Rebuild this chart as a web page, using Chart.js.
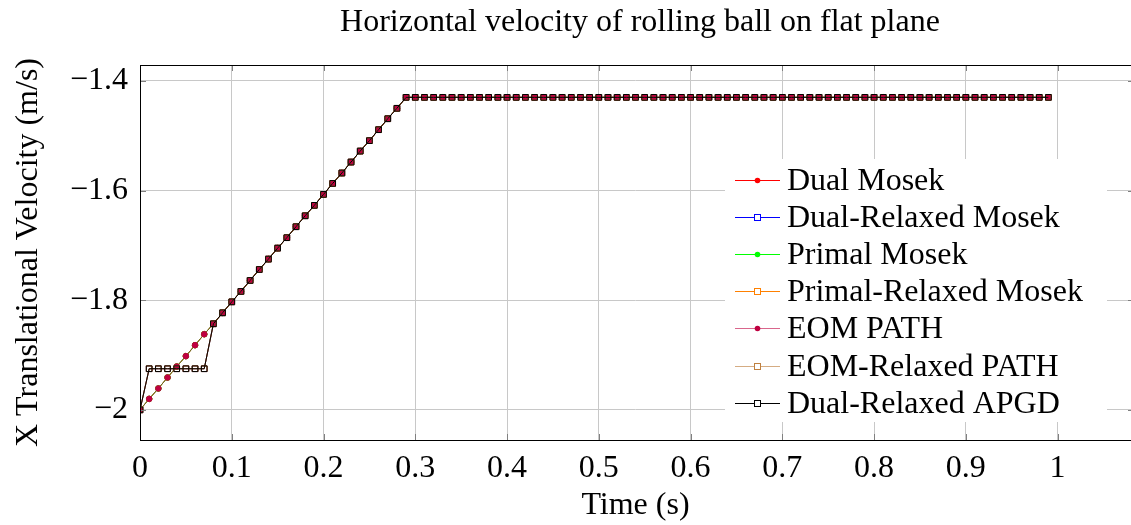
<!DOCTYPE html>
<html>
<head>
<meta charset="utf-8">
<script src="https://cdn.jsdelivr.net/npm/chart.js@4/dist/chart.umd.min.js"></script>
<style>
  html, body { margin: 0; padding: 0; background: #fff; }
  #c { display: block; }
</style>
</head>
<body>
<canvas id="c" width="1131" height="525"></canvas>
<script>
// time samples (s)
const times = [
  0.00, 0.01, 0.02, 0.03, 0.04, 0.05, 0.06, 0.07, 0.08, 0.09,
  0.10, 0.11, 0.12, 0.13, 0.14, 0.15, 0.16, 0.17, 0.18, 0.19,
  0.20, 0.21, 0.22, 0.23, 0.24, 0.25, 0.26, 0.27, 0.28, 0.29,
  0.30, 0.31, 0.32, 0.33, 0.34, 0.35, 0.36, 0.37, 0.38, 0.39,
  0.40, 0.41, 0.42, 0.43, 0.44, 0.45, 0.46, 0.47, 0.48, 0.49,
  0.50, 0.51, 0.52, 0.53, 0.54, 0.55, 0.56, 0.57, 0.58, 0.59,
  0.60, 0.61, 0.62, 0.63, 0.64, 0.65, 0.66, 0.67, 0.68, 0.69,
  0.70, 0.71, 0.72, 0.73, 0.74, 0.75, 0.76, 0.77, 0.78, 0.79,
  0.80, 0.81, 0.82, 0.83, 0.84, 0.85, 0.86, 0.87, 0.88, 0.89,
  0.90, 0.91, 0.92, 0.93, 0.94, 0.95, 0.96, 0.97, 0.98, 0.99
];

// velocity of the exact (non relaxed) solvers: Dual Mosek, Primal Mosek, EOM PATH
const exactVel = [
  -2.000, -1.980, -1.961, -1.941, -1.921, -1.902, -1.882, -1.862, -1.843, -1.823,
  -1.803, -1.784, -1.764, -1.744, -1.725, -1.705, -1.686, -1.666, -1.646, -1.627,
  -1.607, -1.587, -1.568, -1.548, -1.528, -1.509, -1.489, -1.469, -1.450, -1.430,
  -1.430, -1.430, -1.430, -1.430, -1.430, -1.430, -1.430, -1.430, -1.430, -1.430,
  -1.430, -1.430, -1.430, -1.430, -1.430, -1.430, -1.430, -1.430, -1.430, -1.430,
  -1.430, -1.430, -1.430, -1.430, -1.430, -1.430, -1.430, -1.430, -1.430, -1.430,
  -1.430, -1.430, -1.430, -1.430, -1.430, -1.430, -1.430, -1.430, -1.430, -1.430,
  -1.430, -1.430, -1.430, -1.430, -1.430, -1.430, -1.430, -1.430, -1.430, -1.430,
  -1.430, -1.430, -1.430, -1.430, -1.430, -1.430, -1.430, -1.430, -1.430, -1.430,
  -1.430, -1.430, -1.430, -1.430, -1.430, -1.430, -1.430, -1.430, -1.430, -1.430
];

// velocity of the relaxed solvers: Dual-Relaxed Mosek, Primal-Relaxed Mosek, EOM-Relaxed PATH, APGD
const relaxedVel = [
  -2.000, -1.925, -1.925, -1.925, -1.925, -1.925, -1.925, -1.925, -1.843, -1.823,
  -1.803, -1.784, -1.764, -1.744, -1.725, -1.705, -1.686, -1.666, -1.646, -1.627,
  -1.607, -1.587, -1.568, -1.548, -1.528, -1.509, -1.489, -1.469, -1.450, -1.430,
  -1.430, -1.430, -1.430, -1.430, -1.430, -1.430, -1.430, -1.430, -1.430, -1.430,
  -1.430, -1.430, -1.430, -1.430, -1.430, -1.430, -1.430, -1.430, -1.430, -1.430,
  -1.430, -1.430, -1.430, -1.430, -1.430, -1.430, -1.430, -1.430, -1.430, -1.430,
  -1.430, -1.430, -1.430, -1.430, -1.430, -1.430, -1.430, -1.430, -1.430, -1.430,
  -1.430, -1.430, -1.430, -1.430, -1.430, -1.430, -1.430, -1.430, -1.430, -1.430,
  -1.430, -1.430, -1.430, -1.430, -1.430, -1.430, -1.430, -1.430, -1.430, -1.430,
  -1.430, -1.430, -1.430, -1.430, -1.430, -1.430, -1.430, -1.430, -1.430, -1.430
];

const seriesNames = ['Dual Mosek', 'Dual-Relaxed Mosek', 'Primal Mosek', 'Primal-Relaxed Mosek',
                     'EOM PATH', 'EOM-Relaxed PATH', 'Dual-Relaxed APGD'];
const seriesValues = [exactVel, relaxedVel, exactVel, relaxedVel, exactVel, relaxedVel, relaxedVel];

const xTicks = [0, 0.1, 0.2, 0.3, 0.4, 0.5, 0.6, 0.7, 0.8, 0.9, 1];
const yTicks = [-2, -1.8, -1.6, -1.4];

const lineColors = ['#ff0000', '#0000ff', '#00ff00', '#ff8000', 'rgba(191,0,64,0.6)', 'rgba(191,128,64,0.65)', '#000000'];
const markColors = ['#ff0000', '#0000ff', '#00ff00', '#ff8000', '#bf0040', '#bf8040', '#000000'];
const markShapes = ['circle', 'rect', 'circle', 'rect', 'circle', 'rect', 'rect'];

const FONT = '"Liberation Serif", "DejaVu Serif", serif';
const FS = 32;

function fmt(v) {
  const s = String(Math.round(v * 10) / 10);
  return s.replace('-', '\u2212');
}

const datasets = seriesNames.map((name, i) => {
  const open = markShapes[i] === 'rect';
  return {
    label: name,
    data: times.map((t, k) => ({ x: t, y: seriesValues[i][k] })),
    borderColor: lineColors[i],
    borderWidth: 1,
    pointStyle: markShapes[i],
    pointRadius: open ? 4 : 2.8,
    pointBorderWidth: 1,
    pointBorderColor: markColors[i],
    pointBackgroundColor: open ? 'rgba(0,0,0,0)' : markColors[i],
    tension: 0,
    order: seriesNames.length - i
  };
});

const decor = {
  id: 'decor',
  beforeDraw(chart) {
    const ctx = chart.ctx;
    ctx.save();
    ctx.fillStyle = '#fff';
    ctx.fillRect(0, 0, chart.width, chart.height);
    ctx.restore();
  },
  afterDatasetsDraw(chart) {
    // legend box inside plot
    const ctx = chart.ctx;
    const lx = 725, ly = 159, lw = 382, lh = 263;
    ctx.save();
    ctx.fillStyle = '#fff';
    ctx.fillRect(lx, ly, lw, lh);
    const rowY = 180, rowStep = 37.1;
    seriesNames.forEach((name, i) => {
      const y = Math.round(rowY + i * rowStep) + 0.5;
      ctx.strokeStyle = lineColors[i];
      ctx.lineWidth = 1;
      ctx.beginPath();
      ctx.moveTo(735, y);
      ctx.lineTo(780, y);
      ctx.stroke();
      const mx = 757.5;
      ctx.strokeStyle = markColors[i];
      ctx.fillStyle = markColors[i];
      if (markShapes[i] === 'circle') {
        ctx.beginPath();
        ctx.arc(mx, y, 2.8, 0, Math.PI * 2);
        ctx.fill();
      } else {
        ctx.fillStyle = '#fff';
        ctx.fillRect(mx - 3, y - 3, 6, 6);
        ctx.strokeRect(mx - 3, y - 3, 6, 6);
      }
      ctx.fillStyle = '#000';
      ctx.font = FS + 'px ' + FONT;
      ctx.textBaseline = 'middle';
      ctx.textAlign = 'left';
      ctx.fillText(name, 787, y + 1);
    });
    ctx.restore();
  },
  afterDraw(chart) {
    const ctx = chart.ctx;
    const a = chart.chartArea;
    const xs = chart.scales.x, ys = chart.scales.y;
    // the axis box runs a few px past the right edge of the picture
    const right = a.right + 3;
    ctx.save();
    // inner tick marks on all four sides
    ctx.strokeStyle = '#808080';
    ctx.lineWidth = 1;
    ctx.beginPath();
    xTicks.forEach(v => {
      const px = Math.round(xs.getPixelForValue(v)) + 0.5;
      ctx.moveTo(px, a.bottom); ctx.lineTo(px, a.bottom - 6);
      ctx.moveTo(px, a.top); ctx.lineTo(px, a.top + 6);
    });
    yTicks.forEach(v => {
      const py = Math.round(ys.getPixelForValue(v)) + 0.5;
      ctx.moveTo(a.left, py); ctx.lineTo(a.left + 6, py);
      ctx.moveTo(right, py); ctx.lineTo(right - 6, py);
    });
    ctx.stroke();
    // frame
    ctx.strokeStyle = '#000';
    ctx.strokeRect(Math.round(a.left) + 0.5, Math.round(a.top) + 0.5,
                   Math.round(right - a.left), Math.round(a.bottom - a.top));
    // title
    ctx.fillStyle = '#000';
    ctx.font = FS + 'px ' + FONT;
    ctx.textAlign = 'center';
    ctx.textBaseline = 'middle';
    ctx.fillText('Horizontal velocity of rolling ball on flat plane', 640, 23);
    ctx.restore();
  }
};

new Chart(document.getElementById('c'), {
  type: 'line',
  data: { datasets },
  options: {
    responsive: false,
    animation: false,
    devicePixelRatio: 1,
    layout: { autoPadding: false, padding: { top: 65, right: 0, left: 0, bottom: 0 } },
    plugins: { legend: { display: false }, tooltip: { enabled: false } },
    scales: {
      x: {
        type: 'linear',
        min: 0,
        max: 1.08,
        afterBuildTicks: s => { s.ticks = xTicks.map(v => ({ value: v })); },
        afterFit: s => { s.height = 85; s.paddingLeft = 0; s.paddingRight = 0; },
        grid: { color: '#c8c8c8', drawTicks: false },
        border: { display: false },
        ticks: {
          padding: 9,
          color: '#000',
          font: { family: FONT, size: FS },
          maxRotation: 0,
          callback: v => fmt(v)
        },
        title: {
          display: true,
          text: 'Time (s)',
          color: '#000',
          font: { family: FONT, size: FS },
          padding: { top: 0, bottom: 0 }
        }
      },
      y: {
        type: 'linear',
        min: -2.055,
        max: -1.371,
        afterBuildTicks: s => { s.ticks = yTicks.map(v => ({ value: v })); },
        afterFit: s => { s.width = 140; s.paddingTop = 0; s.paddingBottom = 0; },
        grid: { color: '#c8c8c8', drawTicks: false },
        border: { display: false },
        ticks: {
          padding: 12,
          color: '#000',
          font: { family: FONT, size: FS },
          callback: v => fmt(v)
        },
        title: {
          display: true,
          text: 'X Translational Velocity (m/s)',
          color: '#000',
          font: { family: FONT, size: FS },
          padding: { top: 9, bottom: 0 }
        }
      }
    }
  },
  plugins: [decor]
});
</script>
</body>
</html>
